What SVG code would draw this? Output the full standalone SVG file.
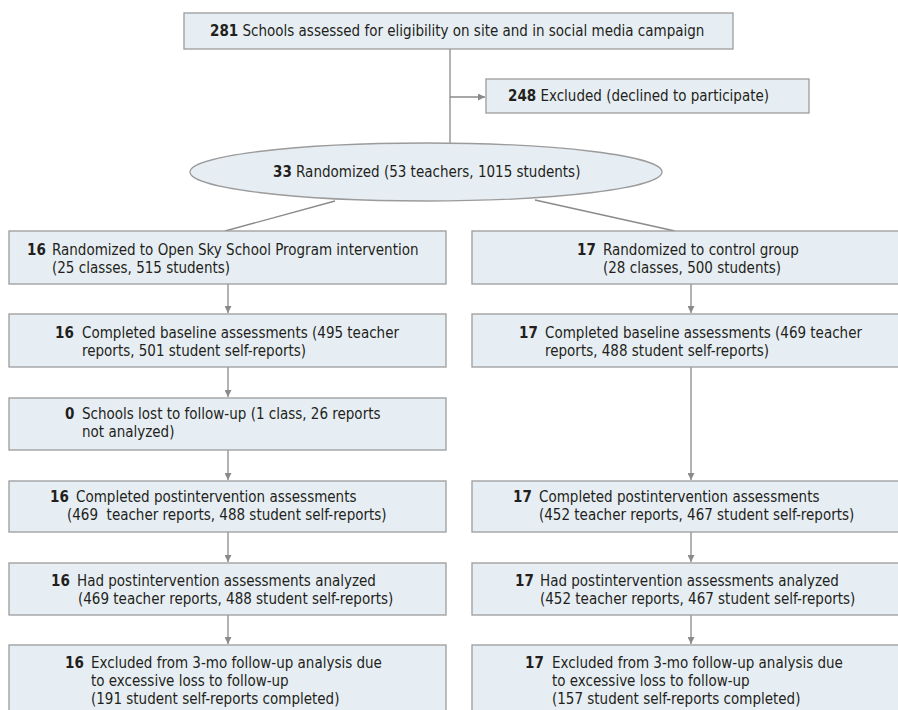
<svg xmlns="http://www.w3.org/2000/svg" width="898" height="710" viewBox="0 0 898 710">
<defs>
<style>
.box{fill:#e7eef3;stroke:#9b9b9b;stroke-width:1.3}
.t{font-family:"DejaVu Sans Condensed","Liberation Sans Narrow",sans-serif;font-size:15px;fill:#231f20}
.b{font-weight:bold}
.ln{stroke:#8a8a8a;stroke-width:1.3;fill:none}
</style>
<marker id="ah" viewBox="0 0 10 10" refX="10" refY="5" markerWidth="7" markerHeight="7" markerUnits="userSpaceOnUse" orient="auto">
<path d="M0,0 L10,5 L0,10 z" fill="#8a8a8a"/>
</marker>
</defs>
<rect width="898" height="710" fill="#ffffff"/>
<g id="connectors">
<line class="ln" x1="450" y1="49" x2="450" y2="143"/>
<line class="ln" x1="450" y1="97" x2="485" y2="97" marker-end="url(#ah)"/>
<line class="ln" x1="335" y1="201" x2="225" y2="231"/>
<line class="ln" x1="535" y1="200" x2="675" y2="231"/>
<line class="ln" x1="228" y1="284" x2="228" y2="313" marker-end="url(#ah)"/>
<line class="ln" x1="228" y1="367" x2="228" y2="397" marker-end="url(#ah)"/>
<line class="ln" x1="228" y1="450" x2="228" y2="480" marker-end="url(#ah)"/>
<line class="ln" x1="228" y1="532" x2="228" y2="562" marker-end="url(#ah)"/>
<line class="ln" x1="228" y1="615" x2="228" y2="644" marker-end="url(#ah)"/>
<line class="ln" x1="691" y1="284" x2="691" y2="313" marker-end="url(#ah)"/>
<line class="ln" x1="691" y1="367" x2="691" y2="480" marker-end="url(#ah)"/>
<line class="ln" x1="691" y1="532" x2="691" y2="562" marker-end="url(#ah)"/>
<line class="ln" x1="691" y1="615" x2="691" y2="644" marker-end="url(#ah)"/>
</g>
<g id="assessed">
<rect class="box" x="184" y="13" width="549" height="36"/>
<text class="t" x="210" y="36"><tspan class="b">281</tspan> Schools assessed for eligibility on site and in social media campaign</text>
</g>
<g id="excluded">
<rect class="box" x="486" y="79" width="323" height="34"/>
<text class="t" x="508" y="101"><tspan class="b">248</tspan> Excluded (declined to participate)</text>
</g>
<g id="randomized">
<ellipse class="box" cx="426" cy="172" rx="236" ry="29"/>
<text class="t" x="273" y="177"><tspan class="b">33</tspan> Randomized (53 teachers, 1015 students)</text>
</g>
<g id="int-randomized">
<rect class="box" x="9" y="231" width="437" height="53"/>
<text class="t"><tspan class="b" x="27" y="255">16</tspan><tspan x="52" y="255">Randomized to Open Sky School Program intervention</tspan><tspan x="52" y="273">(25 classes, 515 students)</tspan></text>
</g>
<g id="ctl-randomized">
<rect class="box" x="472" y="231" width="430" height="53"/>
<text class="t"><tspan class="b" x="577" y="255">17</tspan><tspan x="603" y="255">Randomized to control group</tspan><tspan x="603" y="273">(28 classes, 500 students)</tspan></text>
</g>
<g id="int-baseline">
<rect class="box" x="9" y="314" width="437" height="53"/>
<text class="t"><tspan class="b" x="55" y="338">16</tspan><tspan x="82" y="338">Completed baseline assessments (495 teacher</tspan><tspan x="82" y="356">reports, 501 student self-reports)</tspan></text>
</g>
<g id="ctl-baseline">
<rect class="box" x="472" y="314" width="430" height="53"/>
<text class="t"><tspan class="b" x="519" y="338">17</tspan><tspan x="545" y="338">Completed baseline assessments (469 teacher</tspan><tspan x="545" y="356">reports, 488 student self-reports)</tspan></text>
</g>
<g id="int-lost">
<rect class="box" x="9" y="398" width="437" height="52"/>
<text class="t"><tspan class="b" x="65" y="419">0</tspan><tspan x="82" y="419">Schools lost to follow-up (1 class, 26 reports</tspan><tspan x="82" y="437">not analyzed)</tspan></text>
</g>
<g id="int-post">
<rect class="box" x="9" y="481" width="437" height="51"/>
<text class="t" xml:space="preserve"><tspan class="b" x="50" y="502">16</tspan><tspan x="76" y="502">Completed postintervention assessments</tspan><tspan x="67" y="520">(469  teacher reports, 488 student self-reports)</tspan></text>
</g>
<g id="ctl-post">
<rect class="box" x="472" y="481" width="430" height="51"/>
<text class="t"><tspan class="b" x="513" y="502">17</tspan><tspan x="539" y="502">Completed postintervention assessments</tspan><tspan x="539" y="520">(452 teacher reports, 467 student self-reports)</tspan></text>
</g>
<g id="int-analyzed">
<rect class="box" x="9" y="563" width="437" height="52"/>
<text class="t"><tspan class="b" x="51" y="586">16</tspan><tspan x="77" y="586">Had postintervention assessments analyzed</tspan><tspan x="78" y="604">(469 teacher reports, 488 student self-reports)</tspan></text>
</g>
<g id="ctl-analyzed">
<rect class="box" x="472" y="563" width="430" height="52"/>
<text class="t"><tspan class="b" x="515" y="586">17</tspan><tspan x="540" y="586">Had postintervention assessments analyzed</tspan><tspan x="540" y="604">(452 teacher reports, 467 student self-reports)</tspan></text>
</g>
<g id="int-followup">
<rect class="box" x="9" y="645" width="437" height="80"/>
<text class="t"><tspan class="b" x="65" y="668">16</tspan><tspan x="91" y="668">Excluded from 3-mo follow-up analysis due</tspan><tspan x="91" y="686">to excessive loss to follow-up</tspan><tspan x="91" y="704">(191 student self-reports completed)</tspan></text>
</g>
<g id="ctl-followup">
<rect class="box" x="472" y="645" width="430" height="80"/>
<text class="t"><tspan class="b" x="525" y="668">17</tspan><tspan x="552" y="668">Excluded from 3-mo follow-up analysis due</tspan><tspan x="552" y="686">to excessive loss to follow-up</tspan><tspan x="552" y="704">(157 student self-reports completed)</tspan></text>
</g>
</svg>
